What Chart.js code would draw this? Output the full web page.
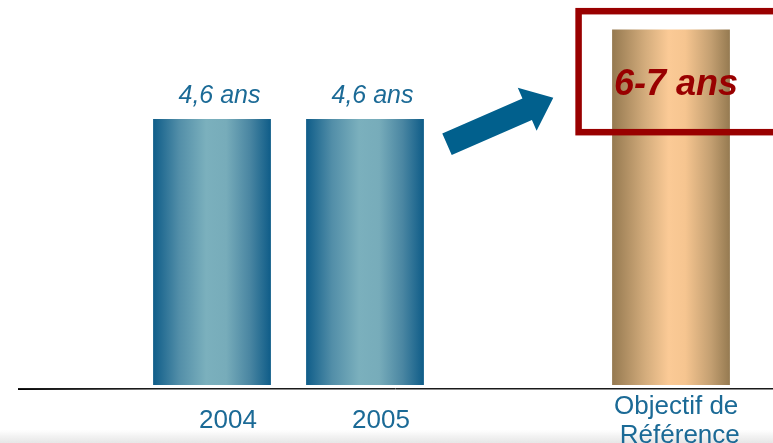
<!DOCTYPE html>
<html>
<head>
<meta charset="utf-8">
<script src="https://cdn.jsdelivr.net/npm/chart.js@4/dist/chart.umd.min.js"></script>
<style>
  html, body { margin: 0; padding: 0; background: #ffffff; }
  #wrap { width: 773px; height: 443px; position: relative; overflow: hidden; }
  #chart { display: block; }
</style>
</head>
<body>
<div id="wrap"><canvas id="chart" width="773" height="443"></canvas></div>
<script>
// Durée moyenne (en années) par période
const categories = ['2004', '2005', '', ['Objectif de   ', 'Référence  ']];
const durations = [4.6, 4.6, null, 6.15];
// Fourchette visée pour l'objectif de référence
const objectiveRange = [6, 7];
const objectiveIndex = 3;

const FONT = "'Liberation Sans', Arial, Helvetica, sans-serif";
const BLUE_TEXT = '#1b6a96';
const DARK_RED = '#990000';
const BAR_FRACTION = 0.77;
const AXIS_BAND = 58;

function valueLabel(i) {
  if (i === objectiveIndex) return objectiveRange[0] + '-' + objectiveRange[1] + ' ans';
  return String(durations[i]).replace('.', ',') + ' ans';
}

const blueStops = [[0, '#0f5d89'], [0.22, '#528ea8'], [0.45, '#7bb0bd'], [0.62, '#77acba'], [0.82, '#4a86a2'], [1, '#0e5c88']];
const tanStops  = [[0, '#957950'], [0.28, '#d3ac7c'], [0.48, '#fbca96'], [0.62, '#f6c590'], [0.84, '#c39f71'], [1, '#957a51']];

// Dégradé horizontal (bords sombres, centre clair) calculé à partir de l'échelle x
function barGradient(ctx) {
  const chart = ctx.chart;
  const xs = chart.scales.x;
  if (!xs || !chart.chartArea) return '#7bb0bd';
  const cx = xs.getPixelForValue(ctx.dataIndex);
  const w = (chart.chartArea.right - chart.chartArea.left) / categories.length * BAR_FRACTION;
  const g = chart.ctx.createLinearGradient(cx - w / 2, 0, cx + w / 2, 0);
  const stops = ctx.dataIndex === objectiveIndex ? tanStops : blueStops;
  stops.forEach(s => g.addColorStop(s[0], s[1]));
  return g;
}

const decorations = {
  id: 'decorations',
  beforeDraw(chart) {
    const c = chart.ctx;
    // léger dégradé gris en pied de page
    const h = chart.height;
    const g = c.createLinearGradient(0, h - 13, 0, h);
    g.addColorStop(0, 'rgba(230,230,230,0)');
    g.addColorStop(1, '#e6e6e6');
    c.save();
    c.fillStyle = g;
    c.fillRect(0, h - 13, chart.width, 13);
    c.restore();
  },
  afterDatasetsDraw(chart) {
    const c = chart.ctx;
    const meta = chart.getDatasetMeta(0);
    const xs = chart.scales.x;
    const ys = chart.scales.y;

    // ligne de base
    const baseY = ys.getPixelForValue(0) + 3.5;
    c.save();
    c.lineWidth = 1;
    c.strokeStyle = '#1a1a1a';
    c.beginPath(); c.moveTo(18, baseY); c.lineTo(chart.width, baseY); c.stroke();
    const lg = c.createLinearGradient(18, 0, 160, 0);
    lg.addColorStop(0, '#000000');
    lg.addColorStop(1, '#8c8c8c');
    c.strokeStyle = lg;
    c.beginPath(); c.moveTo(18, baseY + 1); c.lineTo(chart.width, baseY + 1); c.stroke();
    c.restore();

    // flèche vers l'objectif
    const ax = xs.getPixelForValue(2);
    const ay = ys.getPixelForValue(durations[1]);
    const T = { x: ax - 71, y: ay + 25.2 };
    const P = { x: ax + 35.3, y: ay - 21.3 };
    const dx = P.x - T.x, dy = P.y - T.y, len = Math.hypot(dx, dy);
    const u = { x: dx / len, y: dy / len }, n = { x: -u.y, y: u.x };
    const hw = 11.8, hh = 23.5, hl = 28.5;
    const B = { x: P.x - u.x * hl, y: P.y - u.y * hl };
    const pts = [
      [T.x + n.x * hw, T.y + n.y * hw], [B.x + n.x * hw, B.y + n.y * hw],
      [B.x + n.x * hh, B.y + n.y * hh], [P.x, P.y],
      [B.x - n.x * hh, B.y - n.y * hh], [B.x - n.x * hw, B.y - n.y * hw],
      [T.x - n.x * hw, T.y - n.y * hw]
    ];
    c.save();
    c.fillStyle = '#01608d';
    c.beginPath();
    pts.forEach((p, i) => i ? c.lineTo(p[0], p[1]) : c.moveTo(p[0], p[1]));
    c.closePath();
    c.fill();
    c.restore();

    // étiquettes de valeur et cadre de l'objectif
    meta.data.forEach((el, i) => {
      if (durations[i] === null) return;
      c.save();
      c.textAlign = 'center';
      c.textBaseline = 'alphabetic';
      if (i === objectiveIndex) {
        const left = el.x - el.width / 2 - 33.5;
        c.strokeStyle = DARK_RED;
        c.lineWidth = 6.5;
        c.strokeRect(left, el.y - 18.3, chart.width + 30 - left, 121);
        c.fillStyle = DARK_RED;
        c.font = 'italic bold 36px ' + FONT;
        c.fillText(valueLabel(i), el.x + 5, el.y + 66);
      } else {
        c.fillStyle = BLUE_TEXT;
        c.font = 'italic 25px ' + FONT;
        c.fillText(valueLabel(i), el.x + 7.5, el.y - 16);
      }
      c.restore();
    });
  }
};

new Chart(document.getElementById('chart'), {
  type: 'bar',
  data: {
    labels: categories,
    datasets: [{
      data: durations,
      backgroundColor: barGradient,
      borderWidth: 0,
      categoryPercentage: 1,
      barPercentage: BAR_FRACTION
    }]
  },
  options: {
    responsive: false,
    devicePixelRatio: 1,
    animation: false,
    layout: { padding: { left: 135.5, right: 25.5, top: 0, bottom: 0 } },
    plugins: { legend: { display: false }, tooltip: { enabled: false } },
    scales: {
      x: {
        grid: { display: false, drawTicks: false },
        border: { display: false },
        afterFit(scale) { scale.height = AXIS_BAND; },
        ticks: {
          autoSkip: false,
          maxRotation: 0,
          crossAlign: 'center',
          padding: 22,
          labelOffset: 16,
          color: BLUE_TEXT,
          font: { family: FONT, size: 26, lineHeight: 1.1 }
        }
      },
      y: { display: false, min: 0, max: 6.66 }
    }
  },
  plugins: [decorations]
});
</script>
</body>
</html>
